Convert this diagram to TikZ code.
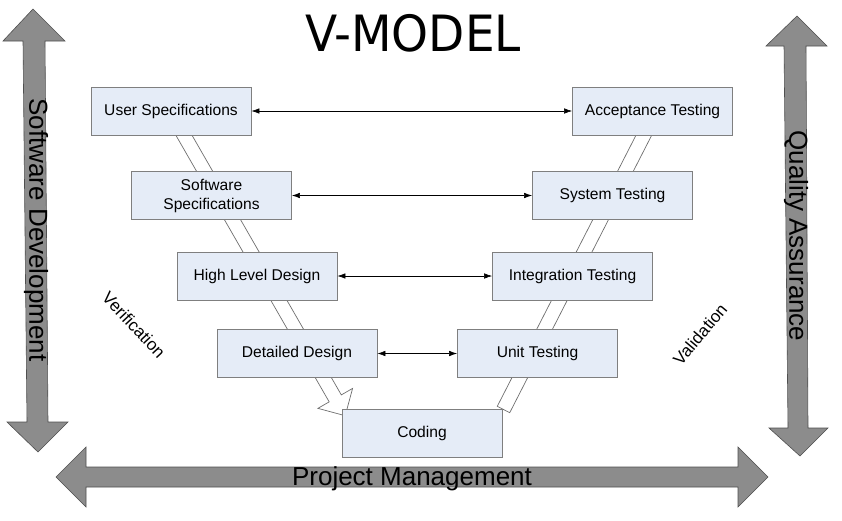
\documentclass[tikz,border=0pt]{standalone}
\usepackage{fontspec}
\setmainfont{Liberation Sans}
\newfontfamily\titlefont{DejaVu Sans}
\usetikzlibrary{arrows.meta,calc}
\definecolor{boxfill}{HTML}{E5ECF7}
\definecolor{boxline}{HTML}{7F7F7F}
\definecolor{bigfill}{HTML}{8C8C8C}
\definecolor{bigline}{HTML}{4F4F4F}
\definecolor{bandline}{HTML}{6E6E6E}
\begin{document}
\begin{tikzpicture}[x=1pt,y=-1pt,
 stage/.style={draw=boxline, fill=boxfill, line width=0.8pt, minimum width=160pt, minimum height=48pt, inner sep=0pt, font=\fontsize{15.6}{19}\selectfont, align=center},
 link/.style={{Latex[length=8pt,width=5.5pt]}-{Latex[length=8pt,width=5.5pt]}, line width=0.6pt},
 bigarrow/.style={fill=bigfill, draw=bigline, line width=0.6pt},
 band/.style={fill=white, draw=bandline, line width=0.7pt, line join=miter},
 bigtext/.style={font=\fontsize{26}{26}\selectfont, inner sep=0pt},
 sidetext/.style={font=\fontsize{17}{17}\selectfont, inner sep=0pt}]

\useasboundingbox (0,0) rectangle (842,520);

% big gray arrows
\draw[bigarrow] (33,9) -- (65,41) -- (45,41) -- (48,422) -- (68,422) -- (38,452) -- (7,422) -- (27,422) -- (23,41) -- (3,41) -- cycle;
\draw[bigarrow] (797,16) -- (827,46) -- (806,46) -- (808,428) -- (828,428) -- (800,456) -- (769,428) -- (788,428) -- (784,46) -- (766,46) -- cycle;
\draw[bigarrow] (56,477) -- (86,447) -- (86,467) -- (738,467) -- (738,447) -- (768,477) -- (738,507) -- (738,487) -- (86,487) -- (86,507) -- cycle;

\node[bigtext, rotate=-90] (sd) at (36,230) {Software Development};
\node[bigtext, rotate=-90] (qa) at (796,236) {Quality Assurance};
\node[bigtext] (pm) at (412,479) {Project Management};

% title
\node[font=\titlefont\fontsize{50}{50}\selectfont, xscale=0.94, inner sep=0pt] (title) at (413,33) {V-MODEL};

% hollow bands (behind boxes)
\coordinate (ls) at (170,111);
\begin{scope}[shift={(ls)}, rotate=-60.1]
  \draw[band] (0,-7) -- (331.5,-7) -- (331.5,-20) -- (351.5,0) -- (331.5,20) -- (331.5,7) -- (0,7) -- cycle;
\end{scope}
\coordinate (rs) at (503.5,409.5);
\begin{scope}[shift={(rs)}, rotate=62.9]
  \draw[band] (0,-7) -- (335.7,-7) -- (335.7,7) -- (0,7) -- cycle;
\end{scope}

% boxes
\node[stage] (us) at (171,111) {User Specifications};
\node[stage] (at) at (652.5,111) {Acceptance Testing};
\node[stage] (ss) at (211.5,195.5) {Software\\Specifications};
\node[stage] (st) at (612.5,195.5) {System Testing};
\node[stage] (hl) at (257,276) {High Level Design};
\node[stage] (it) at (572.5,276) {Integration Testing};
\node[stage] (dd) at (297,353.5) {Detailed Design};
\node[stage] (ut) at (537.5,353.5) {Unit Testing};
\node[stage] (cd) at (422,433) {Coding};

% connectors
\draw[link] (us.east) -- (at.west);
\draw[link] (ss.east) -- (st.west);
\draw[link] (hl.east) -- (it.west);
\draw[link] (dd.east) -- (ut.west);

% side labels
\node[sidetext, rotate=-47] (ver) at (134,325) {Verification};
\node[sidetext, rotate=50] (val) at (700,334) {Validation};
\end{tikzpicture}
\end{document}
